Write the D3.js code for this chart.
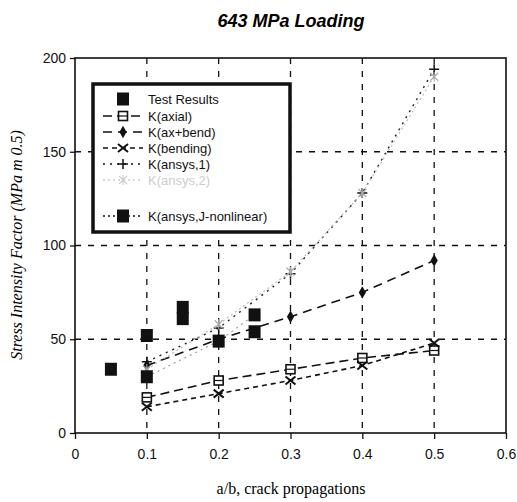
<!DOCTYPE html>
<html>
<head>
<meta charset="utf-8">
<script src="https://cdn.jsdelivr.net/npm/d3@7"></script>
<style>
  body { margin: 0; background: #fff; }
</style>
</head>
<body>
<div id="chart"></div>
<script>
// data
var crack = [0.1, 0.2, 0.3, 0.4, 0.5];
var kAxial = [19, 28, 34, 40, 44];
var kAxBend = [36, 50, 62, 75, 92];
var kBending = [14, 21, 28, 36, 48];
var kAnsys1 = [38, 56, 85, 128, 194];
var kAnsys2 = [34, 58, 86, 128, 190];
var testA = [0.05, 0.1, 0.15, 0.15, 0.25];
var testK = [34, 52, 67, 61, 54];
var jA = [0.1, 0.2, 0.25];
var jK = [30, 49, 63];
var xTicks = [0, 0.1, 0.2, 0.3, 0.4, 0.5, 0.6];
var yTicks = [0, 50, 100, 150, 200];

// set the dimensions
var margin = {top: 58, right: 11, bottom: 69, left: 75},
    width = 517 - margin.left - margin.right,
    height = 502 - margin.top - margin.bottom;

var root = d3.select("#chart")
  .append("svg")
    .attr("width", 517)
    .attr("height", 502);

var svg = root.append("g")
    .attr("transform", "translate(" + margin.left + "," + margin.top + ")");

var x = d3.scaleLinear().domain([0, 0.6]).range([0, width]);
var y = d3.scaleLinear().domain([0, 200]).range([height, 0]);

// grid
svg.append("g").selectAll("line")
  .data(xTicks.filter(function(d){ return d > 0 && d < 0.6; }))
  .enter().append("line")
    .attr("x1", function(d){ return x(d); }).attr("x2", function(d){ return x(d); })
    .attr("y1", 0).attr("y2", height)
    .attr("stroke", "#111").attr("stroke-width", 1.3)
    .attr("stroke-dasharray", "6,7");
svg.append("g").selectAll("line")
  .data(yTicks.filter(function(d){ return d > 0 && d < 200; }))
  .enter().append("line")
    .attr("x1", 0).attr("x2", width)
    .attr("y1", function(d){ return y(d); }).attr("y2", function(d){ return y(d); })
    .attr("stroke", "#111").attr("stroke-width", 1.3)
    .attr("stroke-dasharray", "6,7");

// axes
var xAxis = svg.append("g")
  .attr("transform", "translate(0," + height + ")")
  .call(d3.axisBottom(x).tickValues(xTicks).tickSize(6).tickSizeOuter(0)
    .tickFormat(function(d){ return d === 0 ? "0" : d3.format(".1f")(d); }));
var yAxis = svg.append("g")
  .call(d3.axisLeft(y).tickValues(yTicks).tickSize(5).tickSizeOuter(0));
[xAxis, yAxis].forEach(function(a){
  a.select(".domain").remove();
  a.selectAll("line").attr("stroke", "#111").attr("stroke-width", 1.3);
  a.selectAll("text").attr("fill", "#111")
    .style("font-family", "Arial, 'Liberation Sans', sans-serif").style("font-size", "14px");
});
xAxis.selectAll("text").attr("dy", "1.2em");
yAxis.selectAll("text").attr("x", -9);

// frame
svg.append("rect")
  .attr("width", width).attr("height", height)
  .attr("fill", "none").attr("stroke", "#111").attr("stroke-width", 1.6);

// series
var line = d3.line()
  .x(function(d){ return x(d[0]); })
  .y(function(d){ return y(d[1]); });

function pairs(xs, ys) { return xs.map(function(v, i){ return [v, ys[i]]; }); }

var series = [
  {name: "K(axial)", xs: crack, ys: kAxial, dash: "9,5", color: "#111", w: 1.6, mark: "square"},
  {name: "K(ax+bend)", xs: crack, ys: kAxBend, dash: "9,6", color: "#111", w: 1.6, mark: "diamond"},
  {name: "K(bending)", xs: crack, ys: kBending, dash: "5,4", color: "#111", w: 1.6, mark: "cross"},
  {name: "K(ansys,1)", xs: crack, ys: kAnsys1, dash: "2,5", color: "#222", w: 1.4, mark: "plus"},
  {name: "K(ansys,2)", xs: crack, ys: kAnsys2, dash: "2,3", color: "#bbb", w: 1.2, mark: "star"},
  {name: "K(ansys,J-nonlinear)", xs: jA, ys: jK, dash: "2,4", color: "#999", w: 1.1, mark: "filled"}
];

function marker(g, type, cx, cy, color) {
  if (type === "square") {
    g.append("rect").attr("x", cx - 4.5).attr("y", cy - 4.5).attr("width", 9).attr("height", 9)
      .attr("fill", "#fff").attr("stroke", color).attr("stroke-width", 1.6);
    g.append("line").attr("x1", cx - 4).attr("x2", cx + 4).attr("y1", cy).attr("y2", cy)
      .attr("stroke", color).attr("stroke-width", 1.2);
  } else if (type === "diamond") {
    g.append("path").attr("d", d3.symbol().type(d3.symbolDiamond).size(45)())
      .attr("transform", "translate(" + cx + "," + cy + ")").attr("fill", color);
  } else if (type === "cross") {
    g.append("path").attr("d", "M-5,-4L5,4M-5,4L5,-4")
      .attr("transform", "translate(" + cx + "," + cy + ")").attr("stroke", color).attr("stroke-width", 2);
  } else if (type === "plus") {
    g.append("path").attr("d", "M-5,0L5,0M0,-5L0,5")
      .attr("transform", "translate(" + cx + "," + cy + ")").attr("stroke", color).attr("stroke-width", 1.5);
  } else if (type === "star") {
    g.append("path").attr("d", "M-4,-4L4,4M-4,4L4,-4M0,-5L0,5")
      .attr("transform", "translate(" + cx + "," + cy + ")").attr("stroke", color).attr("stroke-width", 1.1);
  } else if (type === "filled") {
    g.append("rect").attr("x", cx - 6).attr("y", cy - 6.5).attr("width", 12).attr("height", 13)
      .attr("fill", "#111");
  }
}

series.forEach(function(s) {
  var g = svg.append("g");
  g.append("path")
    .datum(pairs(s.xs, s.ys))
    .attr("d", line)
    .attr("fill", "none")
    .attr("stroke", s.color)
    .attr("stroke-width", s.w)
    .attr("stroke-dasharray", s.dash);
  pairs(s.xs, s.ys).forEach(function(p) {
    marker(g, s.mark, x(p[0]), y(p[1]), s.mark === "star" ? "#aaa" : "#111");
  });
});

// test results
svg.append("g").selectAll("rect")
  .data(pairs(testA, testK))
  .enter().append("rect")
    .attr("x", function(d){ return x(d[0]) - 6; })
    .attr("y", function(d){ return y(d[1]) - 6.5; })
    .attr("width", 12).attr("height", 13)
    .attr("fill", "#111");

// legend
var leg = root.append("g").attr("transform", "translate(93,84)");
leg.append("rect").attr("width", 197).attr("height", 148)
  .attr("fill", "#fff").attr("stroke", "#111").attr("stroke-width", 3.5);
var legItems = [
  {name: "Test Results", y: 15},
  {name: series[0].name, s: series[0], y: 32},
  {name: series[1].name, s: series[1], y: 48},
  {name: series[2].name, s: series[2], y: 64},
  {name: series[3].name, s: series[3], y: 80},
  {name: series[4].name, s: series[4], y: 96},
  {name: series[5].name, s: series[5], y: 132}
];
legItems.forEach(function(it) {
  var g = leg.append("g");
  if (it.s) {
    g.append("line").attr("x1", 10).attr("x2", 50).attr("y1", it.y).attr("y2", it.y)
      .attr("stroke", it.s.mark === "star" ? "#ccc" : "#111").attr("stroke-width", 1.6)
      .attr("stroke-dasharray", it.s.mark === "filled" ? "2,3" : it.s.dash);
    marker(g, it.s.mark, 30, it.y, it.s.mark === "star" ? "#ccc" : "#111");
  } else {
    marker(g, "filled", 30, it.y, "#111");
  }
  g.append("text").attr("x", 55).attr("y", it.y + 5)
    .text(it.name)
    .attr("fill", it.s && it.s.mark === "star" ? "#ccc" : "#111")
    .style("font-family", "Arial, 'Liberation Sans', sans-serif").style("font-size", "13px");
});

// titles
root.append("text")
  .attr("x", 291).attr("y", 27)
  .attr("text-anchor", "middle")
  .style("font-family", "Arial, 'Liberation Sans', sans-serif")
  .style("font-size", "18px").style("font-weight", "bold").style("font-style", "italic")
  .text("643 MPa Loading");

root.append("text")
  .attr("x", 291).attr("y", 494)
  .attr("text-anchor", "middle")
  .style("font-family", "'Liberation Serif', 'Times New Roman', serif")
  .style("font-size", "16px")
  .text("a/b, crack propagations");

root.append("text")
  .attr("transform", "translate(22,245) rotate(-90)")
  .attr("text-anchor", "middle")
  .style("font-family", "'Liberation Serif', 'Times New Roman', serif")
  .style("font-size", "16px").style("font-style", "italic")
  .text("Stress Intensity Factor (MPa m 0.5)");
</script>
</body>
</html>
